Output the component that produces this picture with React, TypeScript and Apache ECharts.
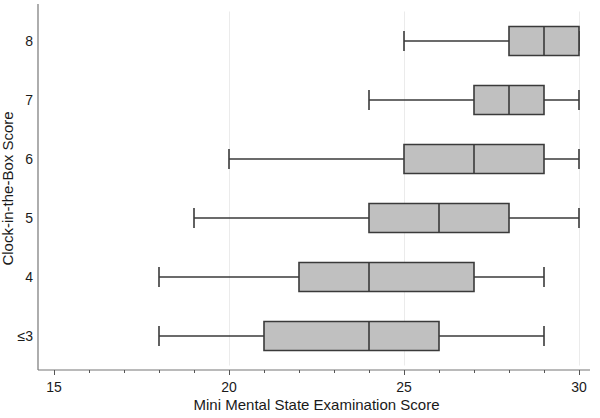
import React, { useEffect, useRef } from "react";
import * as echarts from "echarts";

const categories = ["≤3", "4", "5", "6", "7", "8"];
const mins = [18, 18, 19, 20, 24, 25];
const q1s = [21, 22, 24, 25, 27, 28];
const medians = [24, 24, 26, 27, 28, 29];
const q3s = [26, 27, 28, 29, 29, 30];
const maxs = [29, 29, 30, 30, 30, 30];
const xTicks = [15, 20, 25, 30];

export default function App() {
  const ref = useRef<HTMLDivElement>(null);
  useEffect(() => {
    document.body.style.margin = "0";
    const chart = echarts.init(ref.current!, null, { renderer: "svg" });
    const data = categories.map((_, i) => [i, mins[i], q1s[i], medians[i], q3s[i], maxs[i]]);
    const stroke = "#3a3a3a";
    const font = "Liberation Sans, Arial, Helvetica, sans-serif";
    const txt = "#1a1a1a";
    chart.setOption({
      animation: false,
      grid: { left: 54, right: 21, top: 11.5, bottom: 52.5, containLabel: false, outerBoundsMode: "none" },
      xAxis: {
        type: "value",
        min: xTicks[0],
        max: xTicks[xTicks.length - 1],
        interval: 5,
        offset: 4.5,
        name: "Mini Mental State Examination Score",
        nameLocation: "middle",
        nameGap: 27,
        nameMoveOverlap: false,
        nameTextStyle: { fontSize: 15, color: txt, fontFamily: font },
        axisLine: { show: false },
        axisTick: { show: true, length: 5, lineStyle: { color: "#555", width: 1 } },
        minorTick: { show: true, splitNumber: 5, length: 3, lineStyle: { color: "#555", width: 1 } },
        axisLabel: { margin: 10, fontSize: 14, color: txt, fontFamily: font },
        splitLine: { show: true, lineStyle: { color: ["rgba(0,0,0,0)", "#ebebeb", "#ebebeb", "#ebebeb"], width: 1 } },
      },
      yAxis: {
        type: "category",
        data: categories,
        offset: 16,
        name: "Clock-in-the-Box Score",
        nameLocation: "middle",
        nameGap: 23,
        nameRotate: 90,
        nameMoveOverlap: false,
        nameTextStyle: { fontSize: 15, color: txt, fontFamily: font },
        axisLine: { show: false },
        axisTick: { show: false },
        axisLabel: { margin: 5, fontSize: 14, color: txt, fontFamily: font },
        splitLine: { show: false },
      },
      graphic: [
        { type: "line", shape: { x1: 38, y1: 4, x2: 38, y2: 370 }, style: { stroke: "#777", lineWidth: 1.2 } },
        { type: "line", shape: { x1: 38, y1: 370, x2: 590, y2: 370 }, style: { stroke: "#777", lineWidth: 1.2 } },
      ],
      series: [
        {
          type: "custom",
          data,
          encode: { x: [1, 2, 3, 4, 5], y: 0 },
          renderItem: (params: any, api: any) => {
            const idx = api.value(0);
            const pMin = api.coord([api.value(1), idx]);
            const pQ1 = api.coord([api.value(2), idx]);
            const pMed = api.coord([api.value(3), idx]);
            const pQ3 = api.coord([api.value(4), idx]);
            const pMax = api.coord([api.value(5), idx]);
            const cy = pMin[1];
            const hb = 14.5;
            const hc = 10;
            const ls = { stroke, lineWidth: 1.6 };
            return {
              type: "group",
              children: [
                { type: "line", shape: { x1: pMin[0], y1: cy, x2: pQ1[0], y2: cy }, style: ls },
                { type: "line", shape: { x1: pQ3[0], y1: cy, x2: pMax[0], y2: cy }, style: ls },
                { type: "line", shape: { x1: pMin[0], y1: cy - hc, x2: pMin[0], y2: cy + hc }, style: ls },
                { type: "line", shape: { x1: pMax[0], y1: cy - hc, x2: pMax[0], y2: cy + hc }, style: ls },
                {
                  type: "rect",
                  shape: { x: pQ1[0], y: cy - hb, width: pQ3[0] - pQ1[0], height: hb * 2 },
                  style: { fill: "#c0c0c0", stroke, lineWidth: 1.6 },
                },
                { type: "line", shape: { x1: pMed[0], y1: cy - hb, x2: pMed[0], y2: cy + hb }, style: ls },
              ],
            };
          },
        },
      ],
    });
    return () => chart.dispose();
  }, []);
  return <div ref={ref} style={{ width: 600, height: 418 }} />;
}
